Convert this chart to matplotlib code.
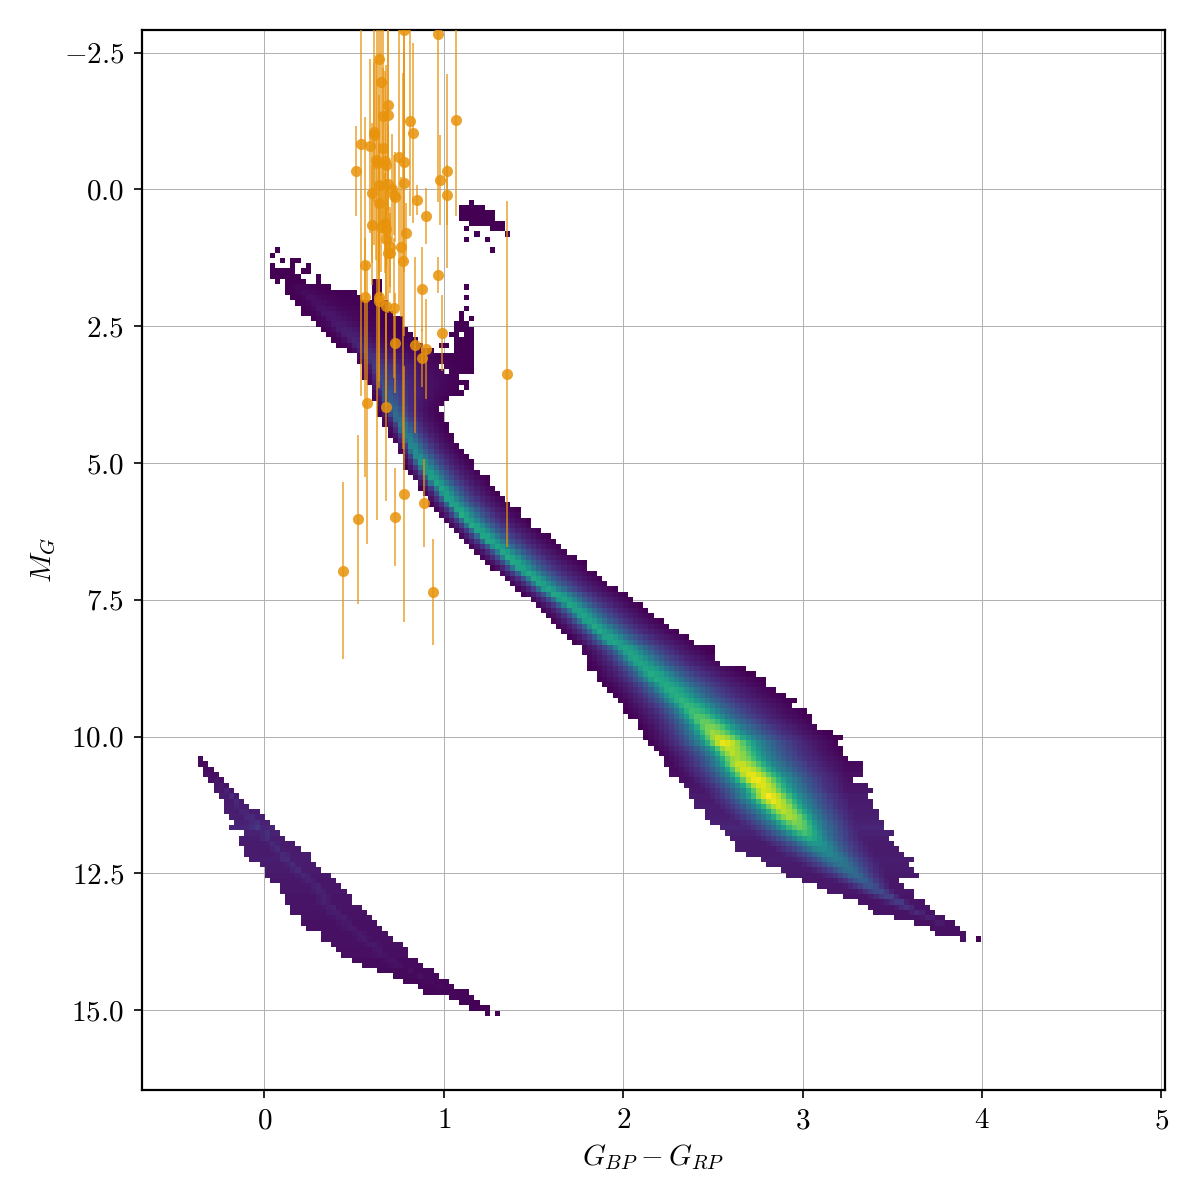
import numpy as np
import matplotlib
matplotlib.use('Agg')
import matplotlib.pyplot as plt

plt.rcParams['font.family'] = ['cmr10', 'DejaVu Serif']
plt.rcParams['mathtext.fontset'] = 'cm'
plt.rcParams['axes.unicode_minus'] = False

# ===== Axis values =====
color_lim = (-0.682, 5.02)
mg_lim = (16.46, -2.915)
n_bins = 200
x_ticks = [0, 1, 2, 3, 4, 5]
x_tick_labels = ['$0$', '$1$', '$2$', '$3$', '$4$', '$5$']
y_ticks = [-2.5, 0.0, 2.5, 5.0, 7.5, 10.0, 12.5, 15.0]
y_tick_labels = ['$-2.5$', '$0.0$', '$2.5$', '$5.0$', '$7.5$', '$10.0$', '$12.5$', '$15.0$']

# ===== Main sequence + giant branch, one value per histogram row (rows 48..171) =====
main_first_row = 48
main_left = [.11,.11,.14,.17,.20,.20,.26,.29,.31,.34,
             .37,.40,.46,.52,.52,.54,.54,.54,.57,.60,
             .60,.60,.63,.63,.63,.66,.66,.69,.69,.72,
             .74,.74,.77,.77,.77,.80,.83,.86,.86,.88,
             .92,.92,.94,.97,1.00,1.03,1.06,1.08,1.11,1.14,
             1.17,1.20,1.23,1.26,1.31,1.34,1.37,1.40,1.43,1.48,
             1.51,1.54,1.57,1.60,1.63,1.66,1.68,1.71,1.77,1.77,
             1.80,1.80,1.80,1.86,1.86,1.89,1.91,1.94,1.97,2.00,
             2.00,2.03,2.09,2.09,2.11,2.11,2.14,2.17,2.20,2.23,
             2.23,2.25,2.25,2.31,2.34,2.37,2.37,2.40,2.40,2.45,
             2.45,2.48,2.54,2.57,2.60,2.63,2.63,2.68,2.77,2.79,
             2.88,2.91,2.99,3.08,3.14,3.22,3.31,3.37,3.40,3.51,
             3.62,3.71,3.74,3.88]
main_right = [.36,.52,.54,.69,.69,.72,.77,.77,.79,.83,
              .85,.88,.94,1.16,1.16,1.16,1.16,1.09,1.14,1.14,
              1.11,1.02,.99,.97,.99,.99,1.02,1.02,1.05,1.05,
              1.08,1.11,1.14,1.17,1.17,1.20,1.26,1.26,1.28,1.31,
              1.34,1.37,1.43,1.43,1.48,1.48,1.54,1.60,1.63,1.66,
              1.68,1.74,1.80,1.80,1.86,1.89,1.91,1.97,2.03,2.05,
              2.11,2.14,2.17,2.23,2.25,2.31,2.37,2.40,2.51,2.51,
              2.52,2.54,2.68,2.73,2.79,2.79,2.86,2.91,2.97,2.94,
              3.02,3.05,3.05,3.08,3.17,3.22,3.19,3.22,3.22,3.25,
              3.33,3.33,3.33,3.28,3.36,3.39,3.36,3.39,3.39,3.42,
              3.42,3.45,3.45,3.51,3.48,3.51,3.54,3.57,3.62,3.60,
              3.62,3.65,3.54,3.57,3.62,3.62,3.68,3.71,3.74,3.80,
              3.85,3.88,3.91,3.91]
main_ridge = [.20,.22,.25,.28,.31,.34,.37,.40,.43,.46,
              .49,.52,.55,.58,.60,.62,.63,.64,.65,.66,
              .67,.68,.69,.71,.72,.74,.76,.77,.79,.80,
              .82,.83,.85,.87,.89,.91,.93,.95,.98,1.00,
              1.02,1.05,1.08,1.10,1.13,1.16,1.19,1.22,1.25,1.29,
              1.33,1.36,1.39,1.42,1.46,1.50,1.53,1.57,1.62,1.66,
              1.70,1.74,1.77,1.80,1.84,1.87,1.91,1.94,2.00,2.03,
              2.06,2.09,2.13,2.16,2.19,2.23,2.26,2.29,2.32,2.36,
              2.39,2.42,2.45,2.48,2.50,2.53,2.56,2.59,2.61,2.63,
              2.65,2.68,2.71,2.74,2.77,2.79,2.81,2.84,2.87,2.90,
              2.93,2.96,2.98,3.01,3.04,3.08,3.11,3.15,3.19,3.22,
              3.26,3.30,3.34,3.38,3.43,3.48,3.54,3.59,3.65,3.71,
              3.77,3.80,3.83,3.90]
main_peak = [.02,.03,.04,.04,.05,.06,.06,.07,.08,.09,
             .10,.11,.12,.14,.16,.18,.20,.22,.24,.26,
             .28,.30,.32,.34,.36,.38,.40,.42,.45,.47,
             .49,.51,.53,.55,.56,.58,.58,.60,.60,.60,
             .60,.60,.62,.62,.60,.62,.60,.62,.62,.60,
             .60,.62,.62,.60,.62,.60,.60,.60,.62,.60,
             .60,.60,.60,.60,.60,.60,.60,.60,.60,.60,
             .60,.60,.60,.62,.62,.62,.64,.64,.66,.68,
             .70,.74,.78,.82,.86,.92,.98,.92,.90,.88,
             .93,.95,.98,1.0,.97,.95,1.0,.97,.93,.90,
             .88,.82,.78,.70,.62,.55,.50,.46,.43,.40,
             .37,.34,.31,.27,.24,.21,.18,.15,.12,.10,
             .08,.05,.03,.01]

# brightness against relative distance from ridge to edge, read across a few rows
profile_dist = [0, .1, .2, .3, .45, .6, .8, 1]
profile_level = [1, .9, .68, .48, .29, .16, .06, 0]

# ===== White dwarf band (rows 137..185) =====
wd_first_row = 137
wd_left = [-.37,-.37,-.34,-.34,-.31,-.28,-.28,-.25,-.23,-.23,
           -.23,-.20,-.17,-.20,-.11,-.14,-.14,-.11,-.11,-.08,
           -.03,.00,.00,.03,.09,.09,.11,.11,.14,.14,
           .20,.20,.23,.31,.31,.37,.40,.43,.49,.54,
           .63,.72,.77,.86,.89,1.03,1.08,1.14,1.23]
wd_right = [-.34,-.32,-.28,-.25,-.23,-.20,-.17,-.14,-.11,-.08,
            -.03,.00,.03,.06,.09,.11,.18,.20,.26,.26,
            .29,.31,.37,.40,.43,.46,.49,.49,.54,.57,
            .60,.63,.66,.69,.72,.77,.80,.80,.86,.88,
            .94,.97,1.02,1.06,1.14,1.17,1.19,1.25,1.25]
wd_peak = [.03,.04,.05,.06,.07,.09,.10,.12,.12,.13,
           .13,.14,.15,.17,.15,.13,.12,.12,.12,.13,
           .12,.12,.11,.10,.10,.10,.09,.09,.09,.08,
           .08,.07,.07,.07,.07,.07,.06,.06,.05,.05,
           .04,.04,.03,.03,.02,.02,.01,.01,.01]

# ===== Sparse low count cells: row, colour from, colour to =====
sparse_rows = [32,33,34,35,36,37,37,38,38,39,39,41,48,50,
               41,42,43,43,44,44,44,45,45,46,46,47,47,47,47,48,49,
               50,52,53,54,54,55,56,57,57,58,59,59,60,
               171,185]
sparse_from = [1.14,1.08,1.08,1.08,1.14,1.26,1.11,1.17,1.34,1.11,1.23,1.26,1.11,1.11,
               .06,.03,.09,.14,.03,.14,.23,.03,.20,.03,.29,.06,.11,.29,.60,.60,.60,
               .60,1.11,1.08,1.08,1.14,1.06,1.06,1.03,1.11,1.06,.97,1.06,1.06,
               3.97,1.28]
sparse_to = [1.17,1.23,1.28,1.28,1.34,1.34,1.14,1.20,1.37,1.14,1.26,1.28,1.14,1.14,
             .09,.06,.11,.20,.06,.17,.26,.17,.26,.20,.32,.09,.23,.32,.66,.66,.66,
             .66,1.14,1.11,1.11,1.17,1.14,1.17,1.08,1.17,1.17,1.02,1.17,1.17,
             4.00,1.31]
hole_rows = [63, 64, 65, 67, 71]
hole_colors = [1.00, 1.02, 1.10, 1.10, .98]

# ===== Orange sample =====
star_color = [.97,.78,.64,.65,.69,.69,.66,.81,.83,1.07,.61,.61,.54,.59,.66,.75,.78,.62,.67,.63,.68,
              .51,1.02,.98,.78,.64,.69,.60,.71,.72,.73,1.02,.85,.64,.90,.60,.67,.65,.68,.79,.68,
              .70,.76,.69,.70,.77,.56,.97,.88,.56,.64,.64,.68,.72,.99,.73,.84,.90,.88,1.35,
              .57,.68,.44,.52,.73,.78,.89,.94]
star_mg = [-2.84,-2.92,-2.39,-1.97,-1.54,-1.36,-1.34,-1.25,-1.03,-1.27,-1.05,-1.00,-.83,-.80,-.76,-.59,-.50,-.54,-.52,-.48,-.45,
           -.34,-.34,-.17,-.12,-.08,-.10,.06,-.01,.10,.14,.10,.19,.25,.48,.65,.61,.69,.72,.80,.90,
           1.05,1.05,1.16,1.16,1.31,1.38,1.56,1.82,1.97,1.97,2.04,2.13,2.16,2.62,2.81,2.84,2.92,3.08,3.37,
           3.90,3.98,6.97,6.03,5.99,5.57,5.73,7.36]
star_err = [3.07,2.74,2.74,2.56,1.46,1.74,2.19,1.74,1.65,1.76,1.28,2.01,4.61,1.59,1.46,2.74,2.01,1.83,1.65,6.53,1.83,
            .82,1.77,.82,2.80,1.65,1.10,1.28,1.01,.73,.82,.55,.27,1.10,.51,1.10,.91,.82,.73,.55,1.10,
            .73,1.28,1.10,.73,3.44,.49,.33,.77,3.29,1.65,1.46,1.83,1.28,.69,.91,1.61,.91,.53,3.16,
            2.58,1.72,1.62,1.54,.90,2.34,.80,.97]

# ===== Build the histogram grid =====
color_edges = np.linspace(color_lim[0], color_lim[1], n_bins + 1)
mg_edges = np.linspace(mg_lim[1], mg_lim[0], n_bins + 1)
color_centers = (color_edges[:-1] + color_edges[1:]) / 2
grid = np.full((n_bins, n_bins), np.nan)


def running_mean(values, size=5):
    # evens out the jagged edges so that they do not print as stripes inside the band
    padded = np.pad(np.asarray(values, dtype=float), size // 2, mode='edge')
    return np.convolve(padded, np.ones(size) / size, mode='valid')


def fill_row(row, left, right, ridge, peak, shape_left, shape_right):
    # cells inside a row are shaped from its read extent, ridge and peak
    for col in np.where((color_centers >= left) & (color_centers <= right))[0]:
        c = color_centers[col]
        if c > ridge:
            span = (c - ridge) / max(shape_right - ridge, 1e-3)
        else:
            span = (ridge - c) / max(ridge - shape_left, 1e-3)
        grid[row, col] = peak * np.interp(span, profile_dist, profile_level)


main_shape_left = running_mean(main_left)
main_shape_right = running_mean(main_right)
for i, (left, right, ridge, peak) in enumerate(zip(main_left, main_right, main_ridge, main_peak, strict=True)):
    fill_row(main_first_row + i, left, right, ridge, peak, main_shape_left[i], main_shape_right[i])

for i, (left, right, peak) in enumerate(zip(wd_left, wd_right, wd_peak, strict=True)):
    ridge = left + 0.6 * (right - left)
    fill_row(wd_first_row + i, left, right, ridge, peak, left, right)
    row = wd_first_row + i
    grid[row] = np.where(np.isnan(grid[row]), np.nan, np.maximum(grid[row], 0.6 * peak))

for row, c0, c1 in zip(sparse_rows, sparse_from, sparse_to, strict=True):
    cols = np.where((color_centers >= c0 - 0.005) & (color_centers <= c1 + 0.005))[0]
    grid[row, cols] = np.nan_to_num(grid[row, cols], nan=0.0)

for row, c in zip(hole_rows, hole_colors, strict=True):
    grid[row, np.argmin(np.abs(color_centers - c))] = np.nan

# ===== Plot =====
fig = plt.figure(figsize=(6, 6), dpi=200)
ax = fig.add_axes([142 / 1200, 1 - 1090 / 1200, 1023 / 1200, 1060 / 1200])

ax.grid(True, color='#b0b0b0', linewidth=0.35)
ax.set_axisbelow(True)
ax.pcolormesh(color_edges, mg_edges, grid, cmap='viridis', vmin=0, vmax=1, rasterized=True, zorder=2)
ax.errorbar(star_color, star_mg, yerr=star_err, fmt='o', color='#E8930C', ms=4.0, mew=0,
            elinewidth=0.55, alpha=0.85, zorder=3)

ax.set_xlim(color_lim)
ax.set_ylim(mg_lim)
ax.set_xticks(x_ticks)
ax.set_xticklabels(x_tick_labels)
ax.set_yticks(y_ticks)
ax.set_yticklabels(y_tick_labels)
ax.tick_params(labelsize=10.5, width=0.6, length=3)
ax.set_xlabel('$G_{BP} - G_{RP}$', fontsize=10.5, labelpad=3)
ax.set_ylabel('$M_G$', fontsize=10.5, labelpad=2)
for spine in ax.spines.values():
    spine.set_linewidth(0.8)

fig.savefig('out.png', dpi=200)
